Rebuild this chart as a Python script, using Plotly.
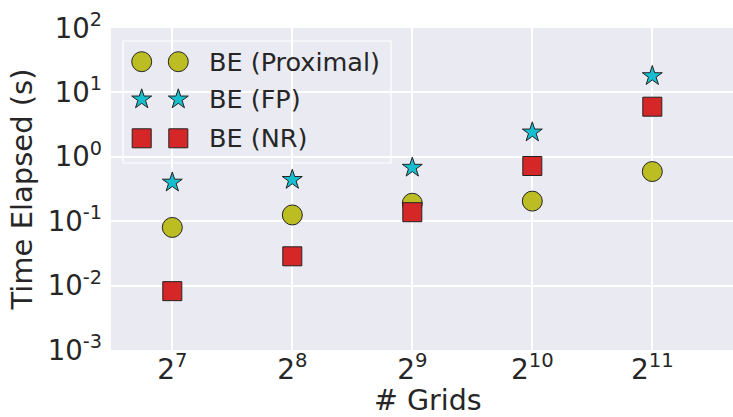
import math
import plotly.graph_objects as go

# Benchmark timings (seconds) vs. number of grid cells
grids = [128, 256, 512, 1024, 2048]
grid_labels = ["2<sup>7</sup>", "2<sup>8</sup>", "2<sup>9</sup>", "2<sup>10</sup>", "2<sup>11</sup>"]
t_proximal = [0.08, 0.125, 0.19, 0.205, 0.59]
t_fp = [0.40, 0.44, 0.68, 2.4, 18.0]
t_nr = [0.0082, 0.0285, 0.138, 0.72, 6.0]

y_ticks = [1e-3, 1e-2, 1e-1, 1e0, 1e1, 1e2]
y_tick_labels = ["10<sup>-3</sup>", "10<sup>-2</sup>", "10<sup>-1</sup>",
                 "10<sup>0</sup>", "10<sup>1</sup>", "10<sup>2</sup>"]

series = [
    ("BE (Proximal)", t_proximal, "circle", "#bcbd22", 20),
    ("BE (FP)", t_fp, "star", "#17becf", 15),
    ("BE (NR)", t_nr, "square", "#d62728", 19),
]

W, H = 733, 417
L, R, T, B = 111, 733, 28, 350          # plot area in pixels
BG = "#EAEAF2"
INK = "#262626"
FONT = "DejaVu Sans"

# x range: first category at 172.3 px, 120 px per doubling
lg0 = math.log10(grids[0])
step = math.log10(2) / 120.0
x_range = [lg0 + (L - 172.3) * step, lg0 + (R - 172.3) * step]


def px(x):
    return (x - L) / (R - L)


def py(y):
    return (B - y) / (B - T)


fig = go.Figure()

for name, vals, sym, col, size in series:
    fig.add_trace(go.Scatter(
        x=grids, y=vals, mode="markers", name=name, showlegend=False,
        marker=dict(symbol=sym, size=size, color=col,
                    line=dict(color="#222222", width=1)),
    ))

# Legend: frame, two sample markers per entry and a label
leg_box = (123, 41, 391, 163)
row_y = [61.7, 99.3, 138.3]
key_x = [141.7, 178.3]
text_x = 207

fig.add_shape(type="rect", xref="paper", yref="paper",
              x0=px(leg_box[0]), x1=px(leg_box[2]),
              y0=py(leg_box[3]), y1=py(leg_box[1]),
              fillcolor=BG, line=dict(color="#ffffff", width=1.2), layer="between")

for (name, vals, sym, col, size), ry in zip(series, row_y):
    fig.add_trace(go.Scatter(
        x=key_x, y=[ry, ry], mode="markers", showlegend=False,
        xaxis="x2", yaxis="y2", hoverinfo="skip",
        marker=dict(symbol=sym, size=size, color=col,
                    line=dict(color="#222222", width=1)),
    ))
    fig.add_annotation(x=px(text_x), y=py(ry), xref="paper", yref="paper",
                       text=name, showarrow=False, xanchor="left", yanchor="middle",
                       font=dict(family=FONT, size=25.5, color=INK))

# x-axis title
fig.add_annotation(x=px(428.5), y=py(400), xref="paper", yref="paper",
                   text="# Grids", showarrow=False, xanchor="center", yanchor="middle",
                   font=dict(family=FONT, size=28.5, color=INK))

fig.update_layout(
    width=W, height=H,
    margin=dict(l=L, r=W - R, t=T, b=H - B, pad=0),
    paper_bgcolor="white", plot_bgcolor=BG,
    font=dict(family=FONT, color=INK),
    showlegend=False,
    xaxis=dict(type="log", range=x_range, tickmode="array", tickvals=grids,
               ticktext=grid_labels, tickfont=dict(size=28, color=INK),
               showgrid=True, gridcolor="white", gridwidth=1.5,
               zeroline=False, showline=False, ticks="", ticklabelstandoff=0),
    yaxis=dict(type="log", range=[-3, 2], tickmode="array", tickvals=y_ticks,
               ticktext=y_tick_labels, tickfont=dict(size=27.5, color=INK),
               showgrid=True, gridcolor="white", gridwidth=1.5,
               zeroline=False, showline=False, ticks="", ticklabelstandoff=8,
               title=dict(text="Time Elapsed (s)", font=dict(size=29, color=INK),
                          standoff=6)),
    xaxis2=dict(overlaying="x", range=[L, R], visible=False, fixedrange=True),
    yaxis2=dict(overlaying="y", range=[B, T], visible=False, fixedrange=True),
)

fig.write_html("out.html")
